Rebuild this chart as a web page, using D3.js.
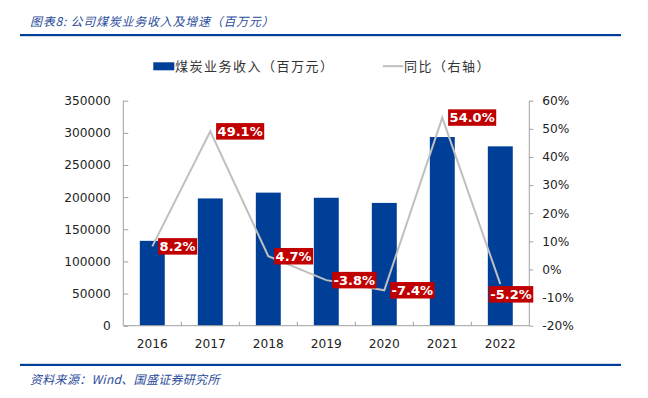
<!DOCTYPE html>
<html><head><meta charset="utf-8">
<script src="https://cdn.jsdelivr.net/npm/d3@7"></script>
<style>
html,body{margin:0;padding:0;background:#fff;}
svg{display:block;}
</style></head>
<body>
<div id="chart"></div>
<script>
const years = ["2016","2017","2018","2019","2020","2021","2022"];
const revenue = [132000, 198000, 207000, 199000, 191000, 293500, 279000];
const growth = [8.2, 49.1, 4.7, -3.8, -7.4, 54.0, -5.2];
const leftTicks = [0, 50000, 100000, 150000, 200000, 250000, 300000, 350000];
const rightTicks = [-20, -10, 0, 10, 20, 30, 40, 50, 60];
const titleText = "图表8: 公司煤炭业务收入及增速（百万元）";
const sourceText = "资料来源：Wind、国盛证券研究所";
const legendBar = "煤炭业务收入（百万元）";
const legendLine = "同比（右轴）";

(function(){
const W = 648, H = 398;
const svg = d3.select("#chart").append("svg").attr("width", W).attr("height", H);

const pL = 123.3, pR = 529.3, pT = 100.7, pB = 325.7;
const x = d3.scaleBand().domain(years).range([pL, pR]).paddingInner(0.57).paddingOuter(0.285);
const yL = d3.scaleLinear().domain([0, 350000]).range([pB, pT]);
const yR = d3.scaleLinear().domain([-20, 60]).range([pB, pT]);

const blue = "#003F98", grey = "#BFBFBF", axisCol = "#A0A0A0", red = "#C00000";
const tickFont = "'DejaVu Sans', Verdana, sans-serif";
const cjk = "'Noto Sans CJK SC', sans-serif";

// title & rules
svg.append("text").attr("x", 30).attr("y", 25.5).text(titleText)
  .attr("font-family", cjk).attr("font-size", 12).attr("font-style", "italic")
  .attr("fill", "#2B4C9B").attr("letter-spacing", 0.75).attr("xml:space", "preserve");
svg.append("rect").attr("x", 20).attr("y", 34).attr("width", 601).attr("height", 2.2).attr("fill", "#003F98");
svg.append("rect").attr("x", 20).attr("y", 363.8).attr("width", 601).attr("height", 2.2).attr("fill", "#003F98");
svg.append("text").attr("x", 30).attr("y", 383.5).text(sourceText)
  .attr("font-family", cjk).attr("font-size", 12).attr("font-style", "italic")
  .attr("fill", "#2B4C9B").attr("letter-spacing", 0.3);

// legend
svg.append("rect").attr("x", 153.3).attr("y", 62.3).attr("width", 21).attr("height", 8).attr("fill", blue);
svg.append("text").attr("x", 175).attr("y", 70.5).text(legendBar)
  .attr("font-family", cjk).attr("font-size", 13).attr("fill", "#333").attr("letter-spacing", 1.5);
svg.append("line").attr("x1", 382.7).attr("x2", 403.3).attr("y1", 66.2).attr("y2", 66.2)
  .attr("stroke", grey).attr("stroke-width", 2);
svg.append("text").attr("x", 404).attr("y", 70.5).text(legendLine)
  .attr("font-family", cjk).attr("font-size", 13).attr("fill", "#333").attr("letter-spacing", 1.5);

// bars
svg.append("g").selectAll("rect").data(years).join("rect")
  .attr("x", d => x(d)).attr("width", x.bandwidth())
  .attr("y", (d, i) => yL(revenue[i])).attr("height", (d, i) => pB - yL(revenue[i]))
  .attr("fill", blue);

// left axis
const gL = svg.append("g").attr("transform", `translate(${pL},0)`)
  .call(d3.axisLeft(yL).tickValues(leftTicks).tickFormat(d3.format("d")).tickSize(-5).tickPadding(12.5));
// right axis
const gR = svg.append("g").attr("transform", `translate(${pR},0)`)
  .call(d3.axisRight(yR).tickValues(rightTicks).tickFormat(d => d + "%").tickSize(4).tickPadding(9));
[gL, gR].forEach(g => {
  g.select(".domain").attr("stroke", axisCol).attr("d", `M0,${pT}V${pB}`);
  g.selectAll(".tick line").attr("stroke", axisCol);
  g.selectAll(".tick text").attr("font-family", tickFont).attr("font-size", 12.2).attr("fill", "#222");
});

// bottom axis
const gB = svg.append("g").attr("transform", `translate(0,${pB})`)
  .call(d3.axisBottom(x).tickSize(0).tickPadding(14));
gB.select(".domain").attr("stroke", axisCol).attr("d", `M${pL},0H${pR}`);
gB.selectAll(".tick text").attr("font-family", tickFont).attr("font-size", 12.2).attr("fill", "#222");
const bounds = years.slice(1).map(d => x(d) - x.step() * x.paddingInner() / 2);
gB.selectAll(".bnd").data(bounds).join("line").attr("class", "bnd")
  .attr("x1", d => d).attr("x2", d => d).attr("y1", 0).attr("y2", -4).attr("stroke", axisCol);

// line
const cx = (d) => x(d) + x.bandwidth() / 2;
const line = d3.line().x((d, i) => cx(years[i])).y(d => yR(d));
svg.append("path").datum(growth).attr("d", line).attr("fill", "none")
  .attr("stroke", grey).attr("stroke-width", 2);

// labels
const lg = svg.append("g");
growth.forEach((v, i) => {
  const px = cx(years[i]), py = yR(v);
  const g = lg.append("g");
  const t = g.append("text").text(v.toFixed(1) + "%")
    .attr("font-family", tickFont).attr("font-size", 13).attr("font-weight", "bold").attr("fill", "#fff");
  const bb = t.node().getBBox();
  const bw = bb.width + 3, bh = 16.5;
  let bx, by;
  if (i === growth.length - 1) { bx = px - 11.5; by = py + 2; }
  else { bx = px + 5.8; by = py - bh / 2; }
  g.insert("rect", "text").attr("x", bx).attr("y", by).attr("width", bw).attr("height", bh).attr("fill", red);
  t.attr("x", bx + 1.5).attr("y", by + bh / 2 + 4.6);
});
})();
</script>
</body></html>
